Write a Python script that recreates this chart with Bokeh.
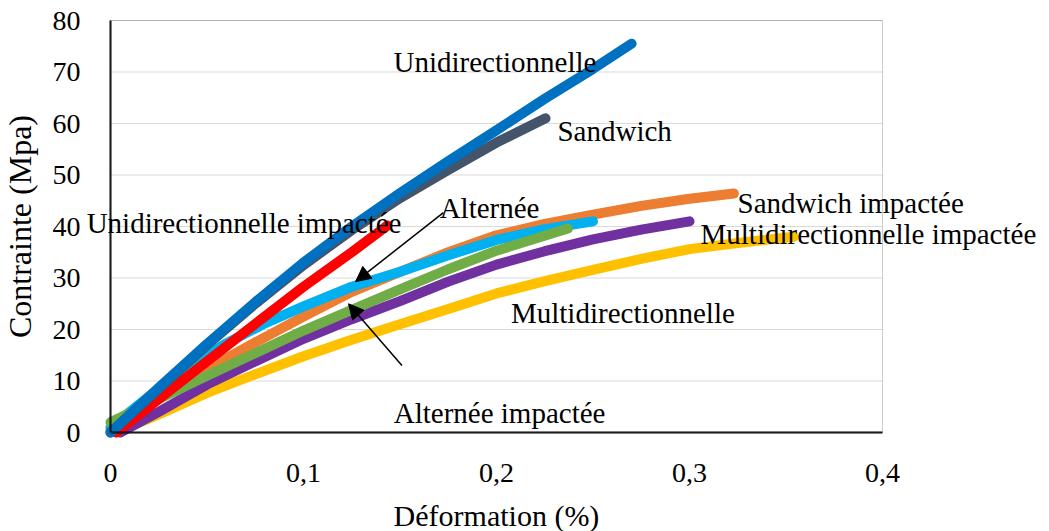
from bokeh.plotting import figure
from bokeh.models import Label, Arrow, NormalHead, FixedTicker, Range1d, BoxAnnotation
from bokeh.embed import file_html
from bokeh.resources import INLINE

# ---------------- data ----------------
uni_x = [0, 0.025, 0.05, 0.075, 0.1, 0.125, 0.15, 0.175, 0.2, 0.225, 0.25, 0.27]
uni_y = [0, 8.7, 17.2, 25.3, 33.0, 40.0, 46.5, 52.7, 58.7, 64.8, 70.6, 75.5]

sand_x = [0, 0.025, 0.05, 0.075, 0.1, 0.125, 0.15, 0.175, 0.2, 0.2254]
sand_y = [0, 8.5, 17.0, 25.0, 32.5, 39.3, 45.5, 51.0, 56.3, 61.0]

uni_imp_x = [0.003, 0.025, 0.05, 0.075, 0.1, 0.125, 0.1435]
uni_imp_y = [0, 6.5, 13.8, 21.1, 28.3, 35.0, 40.2]

alt_x = [0, 0.02, 0.04, 0.06, 0.08, 0.1, 0.125, 0.15, 0.175, 0.2, 0.225, 0.25]
alt_y = [1.0, 7.0, 12.8, 17.3, 21.2, 24.5, 28.3, 31.2, 34.4, 37.4, 39.5, 41.0]

sand_imp_x = [0, 0.025, 0.05, 0.075, 0.1, 0.125, 0.15, 0.175, 0.2, 0.225, 0.25, 0.275, 0.3, 0.323]
sand_imp_y = [0.5, 6.5, 12.3, 17.5, 22.5, 27.3, 31.2, 35.0, 38.3, 40.5, 42.3, 44.0, 45.4, 46.4]

alt_imp_x = [0, 0.025, 0.05, 0.075, 0.1, 0.125, 0.15, 0.175, 0.2, 0.237]
alt_imp_y = [2.0, 6.5, 11.0, 15.4, 19.8, 23.8, 27.8, 31.7, 35.3, 39.6]

multi_imp_x = [0.005, 0.025, 0.05, 0.075, 0.1, 0.125, 0.15, 0.175, 0.2, 0.225, 0.25, 0.275, 0.3]
multi_imp_y = [0, 4.0, 9.3, 13.8, 18.2, 22.0, 25.5, 29.3, 32.6, 35.2, 37.5, 39.4, 41.0]

multi_x = [0.003, 0.025, 0.05, 0.075, 0.1, 0.125, 0.15, 0.175, 0.2, 0.225, 0.25, 0.275, 0.3, 0.325, 0.354]
multi_y = [0, 3.5, 7.7, 11.3, 14.8, 18.0, 21.0, 24.0, 27.0, 29.4, 31.6, 33.7, 35.6, 36.8, 38.0]

x_ticks = [0, 0.1, 0.2, 0.3, 0.4]
x_tick_labels = ["0", "0,1", "0,2", "0,3", "0,4"]
y_ticks = [0, 10, 20, 30, 40, 50, 60, 70, 80]

# ---------------- layout (pixels inside the figure) ----------------
FIG_W, FIG_H = 1049, 531
PLOT_L, PLOT_R = 110, 882      # pixel columns of x = 0 and x = 0.4
PLOT_T, PLOT_B = 20, 432       # pixel rows of y = 80 and y = 0
X0, X1 = x_ticks[0], x_ticks[-1]
Y0, Y1 = y_ticks[0], y_ticks[-1]
xpp = (X1 - X0) / (PLOT_R - PLOT_L)
ypp = (Y1 - Y0) / (PLOT_B - PLOT_T)
x_range = Range1d(X0 - PLOT_L * xpp, X1 + (FIG_W - PLOT_R) * xpp)
y_range = Range1d(Y0 - (FIG_H - PLOT_B) * ypp, Y1 + PLOT_T * ypp)

FONT = "Liberation Serif"

p = figure(width=FIG_W, height=FIG_H, x_range=x_range, y_range=y_range,
           output_backend="svg", toolbar_location=None,
           min_border_left=0, min_border_right=0, min_border_top=0, min_border_bottom=0)

p.background_fill_color = "white"
p.border_fill_color = "white"
p.outline_line_color = None
p.xgrid.visible = False
p.ygrid.visible = False

# horizontal gridlines limited to the plot area
n = len(y_ticks) - 1
p.segment(x0=[X0] * n, x1=[X1] * n, y0=y_ticks[1:], y1=y_ticks[1:],
          line_color="#d9d9d9", line_width=1, level="underlay")

# plot-area border (top / right)
p.add_layout(BoxAnnotation(left=X0, right=X1, bottom=Y0, top=Y1, fill_color=None,
                           line_color="#595959", line_width=1))

p.xaxis.ticker = FixedTicker(ticks=x_ticks)
p.xaxis.major_label_overrides = {t: l for t, l in zip(x_ticks, x_tick_labels)}
p.yaxis.ticker = FixedTicker(ticks=y_ticks)

for ax in (p.xaxis[0], p.yaxis[0]):
    ax.fixed_location = 0
    ax.axis_line_color = "black"
    ax.axis_line_width = 2
    ax.major_tick_line_color = None
    ax.minor_tick_line_color = None
    ax.major_label_text_font = FONT
    ax.major_label_text_font_size = "28px"
    ax.major_label_text_color = "black"
    ax.axis_label_text_font = FONT
    ax.axis_label_text_font_style = "normal"
    ax.axis_label_text_color = "black"

p.xaxis.bounds = (X0, X1)
p.yaxis.bounds = (Y0, Y1)

p.xaxis.axis_label = "Déformation (%)"
p.xaxis.axis_label_text_font_size = "30px"
p.xaxis.major_label_standoff = 25
p.xaxis.axis_label_standoff = 14

p.yaxis.axis_label = "Contrainte (Mpa)"
p.yaxis.axis_label_text_font_size = "32px"
p.yaxis.major_label_standoff = 24
p.yaxis.axis_label_standoff = 12

series = [
    (multi_x, multi_y, "#FFC000"),
    (multi_imp_x, multi_imp_y, "#7030A0"),
    (sand_imp_x, sand_imp_y, "#ED7D31"),
    (alt_x, alt_y, "#00B0F0"),
    (alt_imp_x, alt_imp_y, "#70AD47"),
    (uni_imp_x, uni_imp_y, "#FF0000"),
    (sand_x, sand_y, "#44546A"),
    (uni_x, uni_y, "#0070C0"),
]
for xs, ys, c in series:
    p.line(xs, ys, line_color=c, line_width=10, line_cap="round", line_join="round")

# ---------------- annotations ----------------
labels = [
    ("Unidirectionnelle", 0.1992, 72.0, "center"),
    ("Sandwich", 0.2316, 58.6, "left"),
    ("Unidirectionnelle impactée", 0.0692, 40.6, "center"),
    ("Alternée", 0.1964, 43.5, "center"),
    ("Sandwich impactée", 0.3249, 44.5, "left"),
    ("Multidirectionnelle impactée", 0.3057, 38.6, "left"),
    ("Multidirectionnelle", 0.2655, 23.3, "center"),
    ("Alternée impactée", 0.2016, 3.7, "center"),
]
for text, lx, ly, align in labels:
    p.add_layout(Label(x=lx, y=ly, text=text, text_font=FONT, text_font_size="29px",
                       text_color="black", text_align=align, text_baseline="alphabetic"))

arrows = [
    (0.1725, 42.7, 0.127, 29.3),
    (0.151, 13.0, 0.1233, 25.0),
]
for xs, ys, xe, ye in arrows:
    p.add_layout(Arrow(x_start=xs, y_start=ys, x_end=xe, y_end=ye, line_color="black", line_width=1.5,
                       end=NormalHead(size=15, fill_color="black", line_color="black")))

open("out.html", "w").write(file_html(p, INLINE))
